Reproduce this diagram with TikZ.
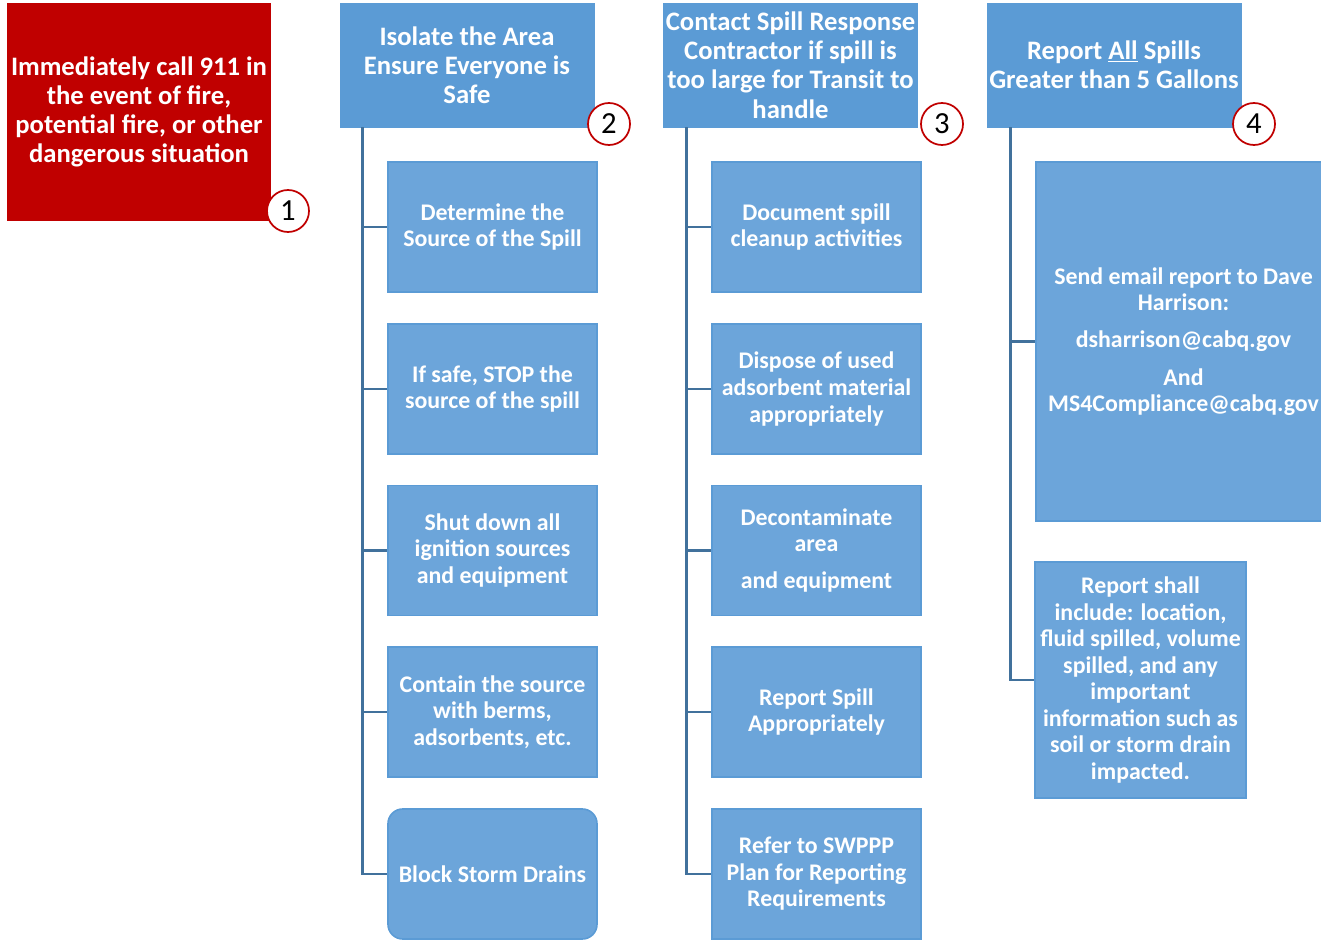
\documentclass[tikz,border=0pt]{standalone}
\usepackage{fontspec}
\setmainfont{Carlito}
\definecolor{alarmred}{HTML}{C00000}
\definecolor{headblue}{HTML}{5B9BD5}
\definecolor{stepblue}{HTML}{6CA5DA}
\definecolor{trunkblue}{HTML}{41719C}
\begin{document}
\begin{tikzpicture}[x=0.75pt,y=-0.75pt,
    headbox/.style={fill=headblue,draw=headblue,text=white,font=\fontsize{20}{21.9}\selectfont\bfseries,
        align=center,inner sep=0pt,minimum width=190.5pt,minimum height=93pt},
    stepbox/.style={fill=stepblue,draw=headblue,line width=1.2pt,text=white,
        font=\fontsize{17.9}{19.9}\selectfont\bfseries,align=center,inner sep=0pt,
        minimum width=156.75pt,minimum height=97.5pt},
    badge/.style={circle,fill=white,draw=alarmred,line width=1.3pt,minimum size=31.5pt,
        inner sep=0pt,font=\fontsize{23}{24}\selectfont},
    trunk/.style={draw=trunkblue,line width=2pt}]
    \useasboundingbox (0,0) rectangle (1321,941);

    % step 1
    \node[fill=alarmred,text=white,font=\fontsize{20}{21.9}\selectfont\bfseries,align=center,
        inner sep=0pt,minimum width=198pt,minimum height=163.5pt] (call) at (139,112)
        {Immediately call 911 in\\the event of fire,\\potential fire, or other\\dangerous situation};
    \node[badge] (n1) at (288,211) {1};

    % headers
    \node[headbox] (h2) at (467,65) {Isolate the Area\\Ensure Everyone is\\Safe};
    \node[headbox] (h3) at (790.5,65) {Contact Spill Response\\Contractor if spill is\\too large for Transit to\\handle};
    \node[headbox] (h4) at (1114,65) {Report \underline{All} Spills\\Greater than 5 Gallons};
    \node[badge] (n2) at (609,124) {2};
    \node[badge] (n3) at (942,124) {3};
    \node[badge] (n4) at (1254,124) {4};

    % column 2
    \node[stepbox] (c21) at (492.5,227) {Determine the\\Source of the Spill};
    \node[stepbox] (c22) at (492.5,389) {If safe, STOP the\\source of the spill};
    \node[stepbox] (c23) at (492.5,550.5) {Shut down all\\ignition sources\\and equipment};
    \node[stepbox] (c24) at (492.5,712) {Contain the source\\with berms,\\adsorbents, etc.};
    \node[stepbox,rounded corners=11pt] (c25) at (492.5,874) {Block Storm Drains};

    % column 3
    \node[stepbox] (c31) at (816.5,227) {Document spill\\cleanup activities};
    \node[stepbox] (c32) at (816.5,389) {Dispose of used\\adsorbent material\\appropriately};
    \node[stepbox] (c33) at (816.5,550.5) {Decontaminate\\area\\[0.45em]and equipment};
    \node[stepbox] (c34) at (816.5,712) {Report Spill\\Appropriately};
    \node[stepbox] (c35) at (816.5,874) {Refer to SWPPP\\Plan for Reporting\\Requirements};

    % column 4
    \node[stepbox,minimum width=221.25pt,minimum height=269.25pt] (c41) at (1183.5,341.5)
        {Send email report to Dave\\Harrison:\\[0.45em]dsharrison@cabq.gov\\[0.45em]And\\MS4Compliance@cabq.gov};
    \node[stepbox,minimum width=158.25pt,minimum height=177pt] (c42) at (1140.5,680)
        {Report shall\\include: location,\\fluid spilled, volume\\spilled, and any\\important\\information such as\\soil or storm drain\\impacted.};

    % connectors
    \foreach \i in {1,...,5}{
        \draw[trunk] ([xshift=17.25pt]h2.south west) |- (c2\i.west);
        \draw[trunk] ([xshift=17.25pt]h3.south west) |- (c3\i.west);
    }
    \foreach \i in {1,2}
        \draw[trunk] ([xshift=18pt]h4.south west) |- (c4\i.west);

\end{tikzpicture}
\end{document}
